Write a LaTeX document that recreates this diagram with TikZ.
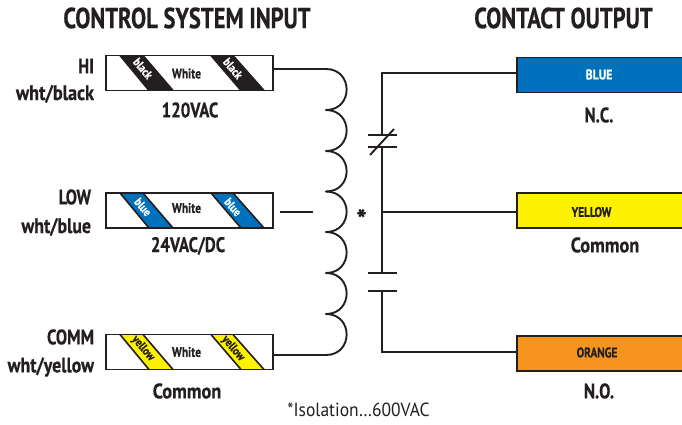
\documentclass[tikz,border=0pt]{standalone}
\usepackage{fontspec}
\setmainfont{PT Sans}[BoldFeatures={FakeBold=0.6}]
\usetikzlibrary{calc}
\definecolor{ink}{HTML}{231F20}
\definecolor{wblue}{HTML}{0071BC}
\definecolor{wyellow}{HTML}{FFF200}
\definecolor{worange}{HTML}{F7941D}
\newcommand{\cnd}[2][0.8]{\scalebox{#1}[1]{#2}}
\tikzset{
  wire/.style={draw=ink,line width=1.9pt,line join=miter},
  coilwire/.style={draw=ink,line width=1.9pt,line cap=round},
  strip/.style={draw=ink,line width=1.9pt,fill=white,minimum width=167pt,minimum height=35pt,inner sep=0pt,outer sep=0pt,anchor=north west},
  contactbox/.style={draw=ink,line width=1.9pt,minimum width=170pt,minimum height=35pt,inner sep=0pt,outer sep=0pt,anchor=north west},
  txt/.style={text=ink,font=\bfseries,inner sep=0pt,outer sep=0pt},
  title/.style={txt,font=\fontsize{29}{29}\selectfont\bfseries},
  lab/.style={txt,font=\fontsize{21}{21}\selectfont\bfseries},
  side/.style={lab,anchor=east},
  small/.style={txt,font=\fontsize{14}{14}\selectfont\bfseries},
  tiny/.style={txt,font=\fontsize{12}{12}\selectfont\bfseries,rotate=-50},
}
% #1 node name, #2 stripe colour, #3 stripe text colour, #4 stripe text, #5 stripe text y, #6 White y
\newcommand{\stripes}[6]{%
  \begin{scope}[shift={(#1.north west)}]
    \foreach \a/\b/\c/\d/\s in {14/37/67/43/A,105/127/158/135/B}{
      \fill[#2] (\a,0) -- (\b,0) -- (\c,35) -- (\d,35) -- cycle;
      \draw[ink,line width=1.6pt] (\a,0) -- (\d,35) (\b,0) -- (\c,35);
    }
    \node[tiny,text=#3] (#1A) at (37,#5) {\cnd[0.85]{#4}};
    \node[tiny,text=#3] (#1B) at (127,#5) {\cnd[0.85]{#4}};
    \node[small] (#1W) at (80.5,#6) {\cnd[0.82]{White}};
  \end{scope}
  \draw[wire] (#1.north west) rectangle (#1.south east);
}
\begin{document}
\begin{tikzpicture}[x=1pt,y=-1pt]
\useasboundingbox (0,0) rectangle (682,425);
% titles
\node[title] (t1) at (187,18) {\cnd[0.78]{CONTROL SYSTEM INPUT}};
\node[title] (t2) at (563.5,18) {\cnd[0.78]{CONTACT OUTPUT}};
% input strips
\node[strip] (hi) at (106,55.5) {};
\node[strip] (low) at (106,193) {};
\node[strip] (comm) at (106,334.5) {};
\stripes{hi}{ink}{white}{black}{13}{18}
\stripes{low}{wblue}{white}{blue}{14}{15}
\stripes{comm}{wyellow}{ink}{yellow}{14}{17.5}
% left labels
\node[side] (l1) at (94,66) {\cnd{HI}};
\node[side] (l2) at (94,94) {\cnd[0.87]{wht/black}};
\node[side] (l3) at (91,197) {\cnd{LOW}};
\node[side] (l4) at (91,227) {\cnd[0.85]{wht/blue}};
\node[side] (l5) at (94,337) {\cnd{COMM}};
\node[side] (l6) at (94,367) {\cnd[0.85]{wht/yellow}};
\node[lab] (c1) at (190,110) {\cnd{120VAC}};
\node[lab] (c2) at (188,246) {\cnd{24VAC/DC}};
\node[lab] (c3) at (187,391) {\cnd[0.87]{Common}};
% coil
\coordinate (k0) at (326,69);
\coordinate (k1) at (326,110);
\coordinate (k2) at (326,151);
\coordinate (k3) at (326,191.5);
\coordinate (k4) at (326,232);
\coordinate (k5) at (326,273);
\coordinate (k6) at (326,314);
\coordinate (k7) at (326,355);
\draw[wire] (hi.east |- k0) -- (k0);
\draw[wire] (comm.east |- k7) -- (k7);
\foreach \p/\q in {k0/k1,k1/k2,k2/k3,k3/k4,k4/k5,k5/k6,k6/k7}{
  \draw[coilwire] (\p) .. controls +(27.5,0) and +(27.5,0) .. (\q);
}
\coordinate (d1) at (280,212);
\coordinate (d2) at (313,212);
\draw[wire] (d1) -- (d2);
\node[txt,font=\fontsize{27}{27}\selectfont\bfseries] (star) at (361.5,219) {*};
% contact boxes
\node[contactbox,fill=wblue] (bb) at (517,57.5) {};
\node[contactbox,fill=wyellow] (yb) at (517,193) {};
\node[contactbox,fill=worange] (ob) at (517,336) {};
\node[small,text=white] (bt) at (599,74.5) {\cnd[0.85]{BLUE}};
\node[small] (yt) at (591.5,212) {\cnd[0.8]{YELLOW}};
\node[small] (ot) at (597,352.5) {\cnd[0.8]{ORANGE}};
\node[lab] (r1) at (599,115) {\cnd{N.C.}};
\node[lab] (r2) at (605,245) {\cnd[0.87]{Common}};
\node[lab] (r3) at (599,391) {\cnd{N.O.}};
% contacts
\coordinate (top) at (382,73);
\coordinate (p1) at (382,135);
\coordinate (p2) at (382,147);
\coordinate (j) at (382,212);
\coordinate (p3) at (382,273);
\coordinate (p4) at (382,291);
\coordinate (bot) at (382,352);
\draw[wire] (bb.west |- top) -- (top) -- (p1);
\draw[wire] (p2) -- (p3);
\draw[wire] (j) -- (yb.west |- j);
\draw[wire] (p4) -- (bot) -- (ob.west |- bot);
\draw[wire] ($(p1)+(-14.5,0)$) -- ($(p1)+(14.5,0)$);
\draw[wire] ($(p2)+(-14.5,0)$) -- ($(p2)+(14.5,0)$);
\draw[wire] ($(p3)+(-14.5,0)$) -- ($(p3)+(14.5,0)$);
\draw[wire] ($(p4)+(-14.5,0)$) -- ($(p4)+(14.5,0)$);
\draw[wire] ($(p1)+(-12,20)$) -- ($(p1)+(12,-6)$);
% footnote
\node[txt,font=\fontsize{19}{19}\selectfont] (fn) at (358.5,410) {\cnd[0.92]{*Isolation…600VAC}};
\end{tikzpicture}
\end{document}
